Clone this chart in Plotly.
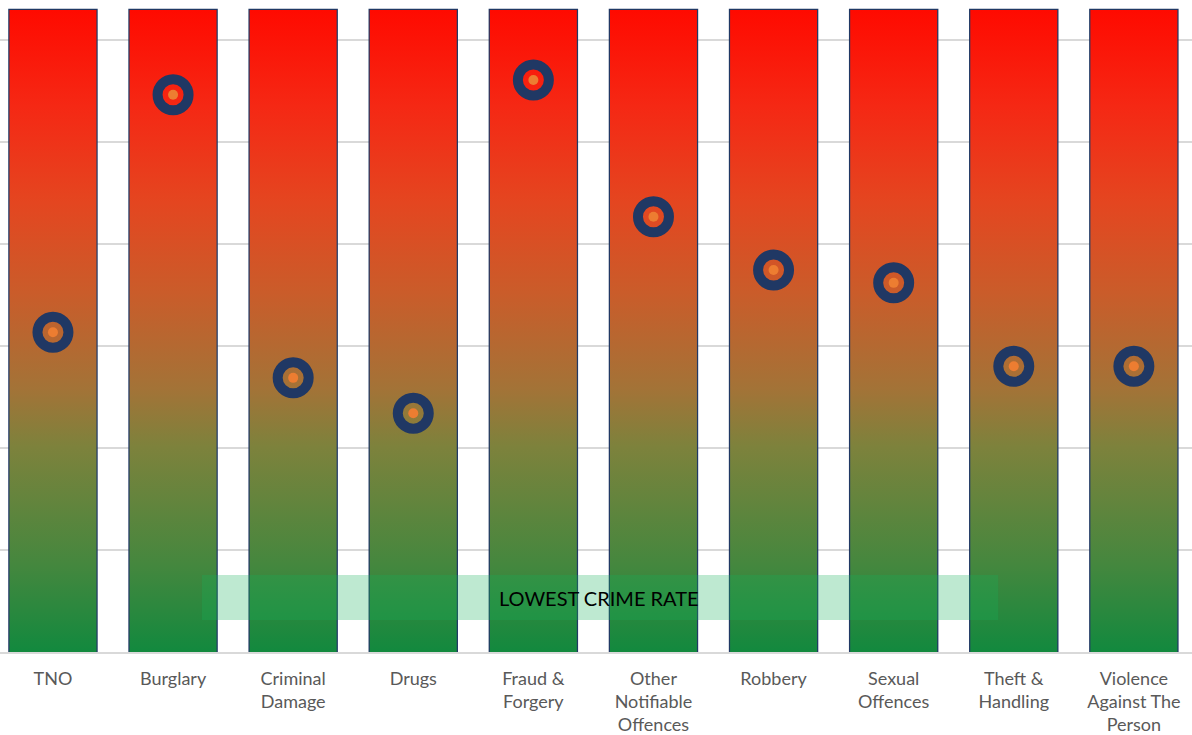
import plotly.graph_objects as go

categories = ["TNO", "Burglary", "Criminal<br>Damage", "Drugs", "Fraud &<br>Forgery",
              "Other<br>Notifiable<br>Offences", "Robbery", "Sexual<br>Offences",
              "Theft &<br>Handling", "Violence<br>Against The<br>Person"]
bar_values = [100, 100, 100, 100, 100, 100, 100, 100, 100, 100]
rate_values = [49.8, 86.8, 42.7, 37.2, 89.1, 67.8, 59.5, 57.5, 44.5, 44.5]
band_label = "LOWEST CRIME RATE"

NAVY = "#203864"
GRID = "#D9D9D9"
BAR_W = 0.724
scale = [[0.0, "rgb(18,137,62)"], [0.14, "rgb(70,135,62)"], [0.32, "rgb(125,130,60)"],
         [0.41, "rgb(163,115,55)"], [0.56, "rgb(202,92,42)"], [0.70, "rgb(228,70,32)"],
         [0.85, "rgb(245,40,20)"], [1.0, "rgb(255,10,0)"]]

xs = list(range(len(categories)))
fig = go.Figure()

# gradient fills
for i, v in zip(xs, bar_values):
    h = BAR_W / 2
    fig.add_trace(go.Scatter(
        x=[i - h, i + h, i + h, i - h, i - h], y=[0, 0, v, v, 0],
        mode="lines", line=dict(width=0), fill="toself",
        fillgradient=dict(type="vertical", colorscale=scale, start=0, stop=v),
        hoverinfo="skip", showlegend=False))

# bar outlines
fig.add_trace(go.Bar(x=xs, y=bar_values, width=BAR_W,
                     marker=dict(color="rgba(0,0,0,0)", line=dict(color=NAVY, width=2.5)),
                     showlegend=False))

# ring markers
fig.add_trace(go.Scatter(x=xs, y=rate_values, mode="markers",
                         marker=dict(size=31, color="rgba(0,0,0,0)",
                                     line=dict(color=NAVY, width=10)),
                         showlegend=False))
fig.add_trace(go.Scatter(x=xs, y=rate_values, mode="markers",
                         marker=dict(size=10, color="#ED7D31", line=dict(width=0)),
                         showlegend=False))

# band
fig.add_shape(type="rect", x0=1.24, x1=7.87, y0=5.0, y1=12.0, xref="x", yref="y",
              fillcolor="rgba(20,176,90,0.28)", line=dict(width=0), layer="above")
fig.add_annotation(x=4.55, y=8.4, text=band_label, showarrow=False,
                   font=dict(family="Lato", size=20, color="#000000"))

fig.update_layout(
    width=1192, height=735,
    margin=dict(l=0, r=0, t=0, b=83),
    paper_bgcolor="white", plot_bgcolor="white",
    showlegend=False,
    xaxis=dict(range=[-0.441, 9.484], tickmode="array", tickvals=xs, ticktext=categories,
               showgrid=False, zeroline=False, showline=True, linecolor=GRID, linewidth=2,
               tickfont=dict(family="Lato", size=18, color="#595959"),
               ticks="", ticklabelstandoff=9),
    yaxis=dict(range=[0, 101.56], dtick=15.89, showgrid=True, gridcolor=GRID, gridwidth=2,
               zeroline=False, showticklabels=False, showline=False),
)

fig.write_html("out.html", config={"displayModeBar": False},
               post_script="document.body.style.margin='0';document.body.style.overflow='hidden';")
